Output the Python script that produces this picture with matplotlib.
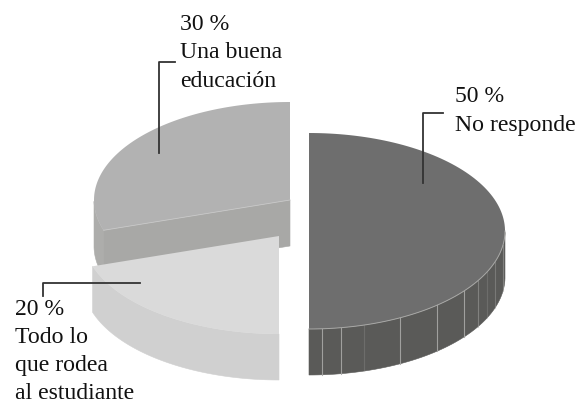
import numpy as np
import matplotlib
matplotlib.use("Agg")
import matplotlib.pyplot as plt
from matplotlib.patches import Polygon

labels = ["No responde", "Una buena\neducación", "Todo lo\nque rodea\nal estudiante"]
values = [50, 30, 20]
start_angles = [-90, 90, 198]

top_colors = ["#6e6e6e", "#b2b2b2", "#dadada"]
side_colors = ["#5a5a58", "#adadab", "#d0d0d0"]
cut_colors = ["#5a5a58", "#a8a8a6", "#d0d0d0"]
centers = [(309, 231), (290, 200), (279, 236)]

RX = 196
RY = 98
DEPTH = 46


def arc_points(center, a0, a1, n=120):
    t = np.radians(np.linspace(a0, a1, n))
    return np.column_stack([center[0] + RX * np.cos(t), center[1] - RY * np.sin(t)])


def draw_slice(ax, i):
    c = centers[i]
    a0 = start_angles[i]
    a1 = a0 + values[i] * 3.6
    arc = arc_points(c, a0, a1)

    # outer wall, only where it faces the viewer
    vis = (arc[:, 1] >= c[1])
    if vis.any():
        wall = arc[vis]
        low = wall[::-1] + [0, DEPTH]
        ax.add_patch(Polygon(np.vstack([wall, low]), fc=side_colors[i], ec=side_colors[i], lw=0.4))

    # cut face, only the grey one shows
    if i == 1:
        end = arc[-1]
        cut = [c, end, (end[0], end[1] + DEPTH), (c[0], c[1] + DEPTH)]
        ax.add_patch(Polygon(cut, fc=cut_colors[i], ec=cut_colors[i], lw=0.4))

    ax.add_patch(Polygon(np.vstack([[c], arc]), fc=top_colors[i], ec="none"))


plt.rcParams["font.family"] = "Liberation Serif"

fig = plt.figure(figsize=(5.83, 4.05), dpi=100)
ax = fig.add_axes([0, 0, 1, 1])
ax.set_xlim(0, 583)
ax.set_ylim(405, 0)
ax.axis("off")

draw_slice(ax, 1)
draw_slice(ax, 2)
draw_slice(ax, 0)

# pale seams on the dark wall
c = centers[0]
for dx, a in [(13, 0.9), (32, 0.9), (55, 0.25), (91, 0.9), (128, 0.9), (155, 0.9), (169, 0.5), (178, 0.25), (186, 0.4), (194, 0.5)]:
    y = c[1] + RY * np.sqrt(max(1 - (dx / RX) ** 2, 0))
    ax.plot([c[0] + dx] * 2, [y, y + DEPTH], color="#a8a8a6", lw=0.8, alpha=a)
dark_edge = arc_points(c, -90, 0)
ax.plot(dark_edge[:, 0], dark_edge[:, 1], color="#a8a8a6", lw=0.7)

# pale seam along the grey cut
c = centers[1]
end = arc_points(c, 198, 198, 1)[0]
ax.plot([c[0], end[0]], [c[1], end[1]], color="#c8c8c8", lw=0.6)

# leader lines
line_color = "#333333"
ax.plot([423, 423, 443], [183, 113, 113], color=line_color, lw=1.3)
ax.plot([159, 159, 175], [153, 62, 62], color=line_color, lw=1.3)
ax.plot([140, 43, 43], [283, 283, 296], color=line_color, lw=1.3)

# x and baseline of the last line of each label
text_pos = [(455, 131), (180, 87), (15, 399)]
spacing = [1.48, 1.48, 1.43]
for i in range(3):
    ax.text(text_pos[i][0], text_pos[i][1], f"{values[i]} %\n{labels[i]}",
            fontsize=17.1, color="#111111", va="baseline", ha="left", linespacing=spacing[i])

fig.savefig("out.png", dpi=100)
